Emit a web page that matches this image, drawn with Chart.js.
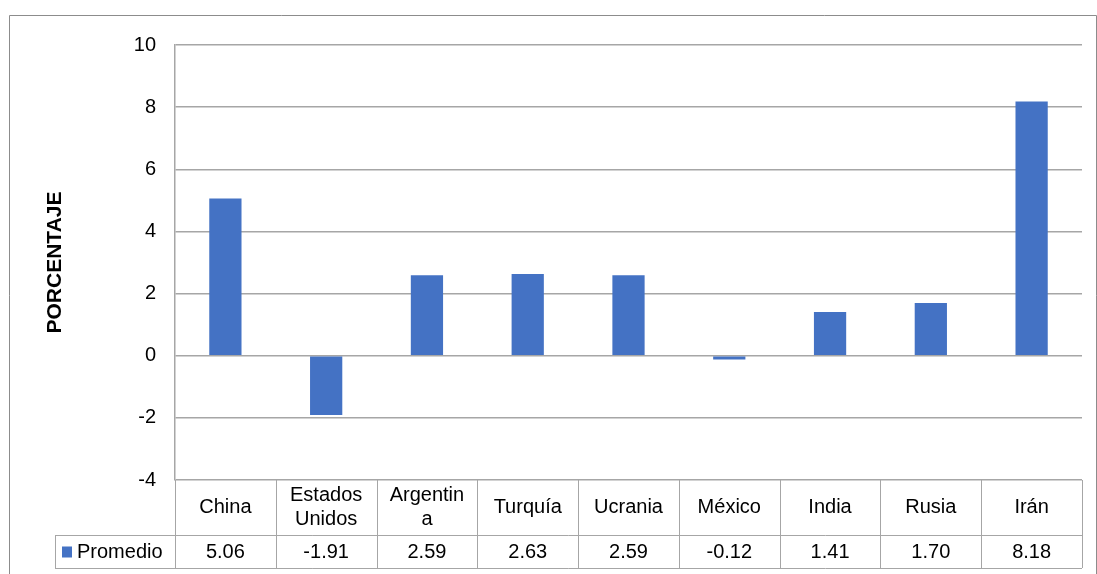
<!DOCTYPE html>
<html>
<head>
<meta charset="utf-8">
<script src="https://cdn.jsdelivr.net/npm/chart.js@4"></script>
<style>
  html, body { margin: 0; padding: 0; background: #ffffff; }
  #wrap { width: 1097px; height: 574px; position: relative; }
</style>
</head>
<body>
<div id="wrap"><canvas id="c" width="1097" height="574"></canvas></div>
<script>
// Categories (lines split as they wrap in the data table)
const categories = [
  ["China"], ["Estados", "Unidos"], ["Argentin", "a"], ["Turquía"], ["Ucrania"],
  ["México"], ["India"], ["Rusia"], ["Irán"]
];
const seriesName = "Promedio";
const promedio = [5.06, -1.91, 2.59, 2.63, 2.59, -0.12, 1.41, 1.70, 8.18];
const yTicks = [-4, -2, 0, 2, 4, 6, 8, 10];
const yTitle = "PORCENTAJE";

const BAR = "#4472C4";
const GRID = "#a6a6a6";
const FONT = "'Liberation Sans', Arial, sans-serif";

// Outer frame, rotated axis title and the data table under the plot
const tablePlugin = {
  id: "dataTable",
  beforeDraw(chart) {
    const ctx = chart.ctx;
    ctx.save();
    ctx.fillStyle = "#ffffff";
    ctx.fillRect(0, 0, chart.width, chart.height);
    ctx.strokeStyle = "#8c8c8c";
    ctx.lineWidth = 1;
    ctx.beginPath();
    ctx.moveTo(9.5, chart.height + 2);
    ctx.lineTo(9.5, 15.5);
    ctx.lineTo(chart.width - 0.5, 15.5);
    ctx.lineTo(chart.width - 0.5, chart.height + 2);
    ctx.stroke();
    ctx.restore();
  },
  afterDraw(chart) {
    const ctx = chart.ctx;
    const area = chart.chartArea;
    const x = chart.scales.x;
    const left = area.left, right = area.right;
    const top = area.bottom;
    const rowSplit = top + 55;
    const bottom = rowSplit + 33;
    const headLeft = 55;
    const n = categories.length;
    const colW = (right - left) / n;

    ctx.save();
    // axis title
    ctx.fillStyle = "#000000";
    ctx.font = "bold 21px " + FONT;
    ctx.textAlign = "center";
    ctx.textBaseline = "middle";
    ctx.translate(55, (area.top + area.bottom) / 2);
    ctx.rotate(-Math.PI / 2);
    ctx.fillText(yTitle, 0, 0);
    ctx.restore();

    ctx.save();
    ctx.strokeStyle = GRID;
    ctx.lineWidth = 1;
    ctx.beginPath();
    // category row verticals
    for (let i = 0; i <= n; i++) {
      const xx = Math.round(left + i * colW) + 0.5;
      ctx.moveTo(xx, top);
      ctx.lineTo(xx, bottom);
    }
    // value row
    ctx.moveTo(headLeft + 0.5, rowSplit + 0.5);
    ctx.lineTo(right, rowSplit + 0.5);
    ctx.moveTo(headLeft + 0.5, bottom + 0.5);
    ctx.lineTo(right, bottom + 0.5);
    ctx.moveTo(headLeft + 0.5, rowSplit);
    ctx.lineTo(headLeft + 0.5, bottom + 1);
    ctx.stroke();

    ctx.fillStyle = "#000000";
    ctx.font = "20px " + FONT;
    ctx.textAlign = "center";
    ctx.textBaseline = "middle";
    const catMid = (top + rowSplit) / 2;
    const valMid = (rowSplit + bottom) / 2 + 1;
    categories.forEach((lines, i) => {
      const cx = x.getPixelForValue(i);
      const lh = 24;
      const y0 = catMid - (lines.length - 1) * lh / 2;
      lines.forEach((t, k) => ctx.fillText(t, cx, y0 + k * lh));
      ctx.fillText(promedio[i].toFixed(2), cx, valMid);
    });
    // legend key and series name
    ctx.fillStyle = BAR;
    ctx.fillRect(62, valMid - 6, 10, 11);
    ctx.fillStyle = "#000000";
    ctx.textAlign = "left";
    ctx.fillText(seriesName, 77, valMid);
    ctx.restore();
  }
};

new Chart(document.getElementById("c"), {
  type: "bar",
  data: {
    labels: categories.map(l => l.join(" ")),
    datasets: [{
      label: seriesName,
      data: promedio,
      backgroundColor: BAR,
      borderWidth: 0,
      categoryPercentage: 1,
      barPercentage: 0.32
    }]
  },
  options: {
    responsive: false,
    animation: false,
    events: [],
    layout: { padding: { left: 0, top: 45, right: 15, bottom: 94 } },
    plugins: {
      legend: { display: false },
      tooltip: { enabled: false },
      title: { display: false }
    },
    scales: {
      x: {
        display: false,
        grid: { display: false }
      },
      y: {
        min: yTicks[0],
        max: yTicks[yTicks.length - 1],
        afterFit(scale) { scale.width = 175; },
        afterBuildTicks(scale) { scale.ticks = yTicks.map(v => ({ value: v })); },
        ticks: {
          color: "#000000",
          font: { family: FONT, size: 20 },
          padding: 19
        },
        grid: {
          color: GRID,
          lineWidth: 1.5,
          drawTicks: false
        },
        border: { display: true, color: GRID, width: 1.5 }
      }
    }
  },
  plugins: [tablePlugin]
});
</script>
</body>
</html>
